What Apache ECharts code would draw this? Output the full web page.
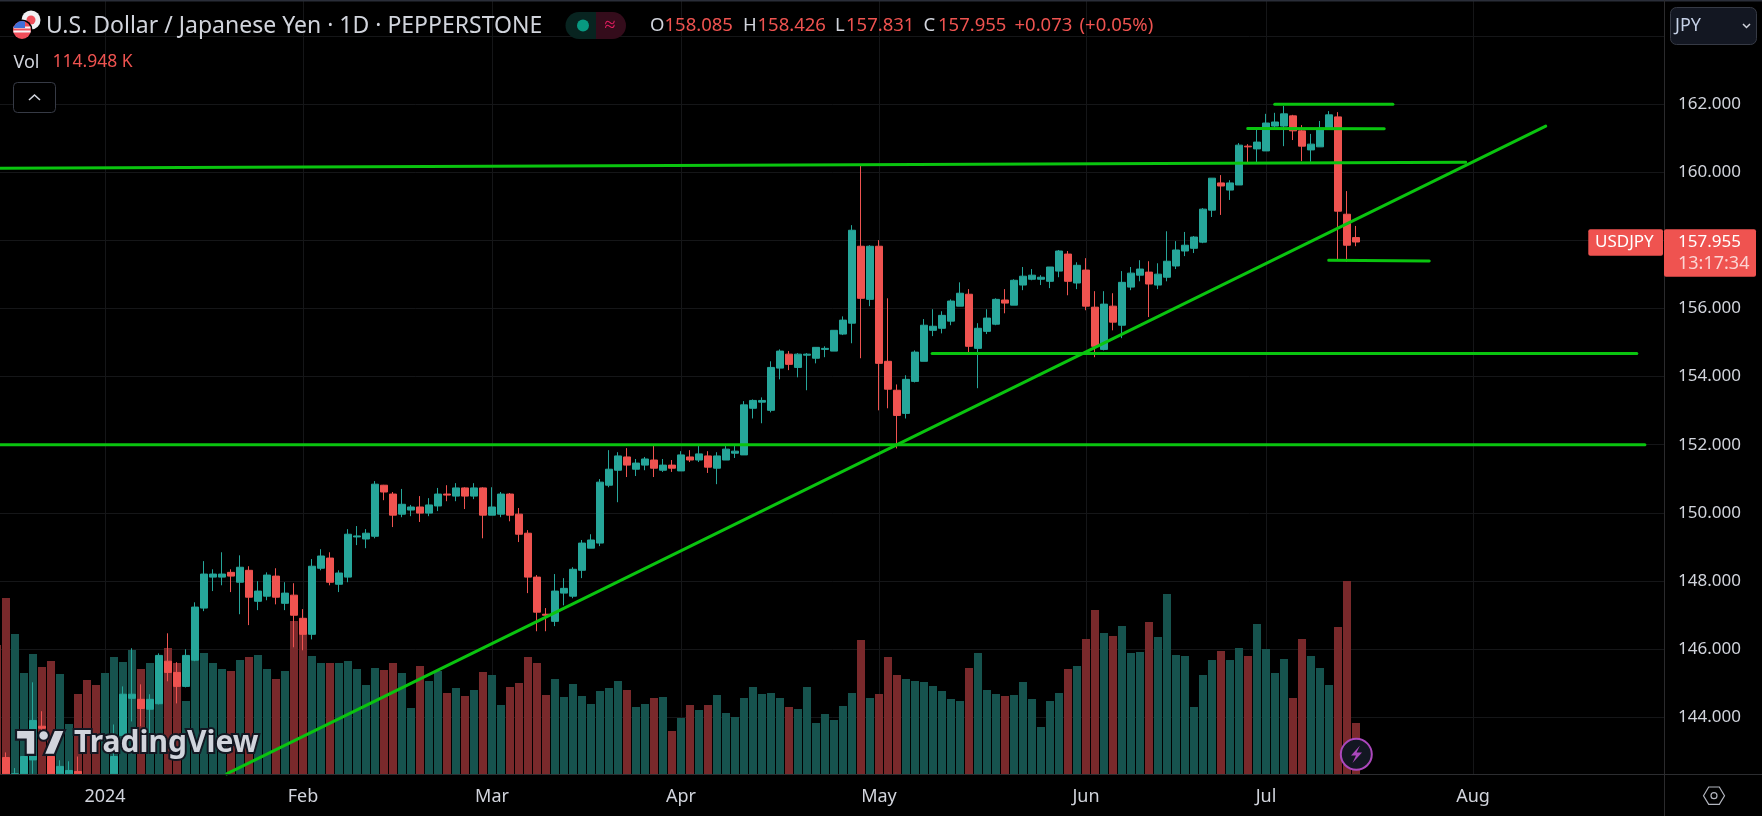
<!DOCTYPE html>
<html>
<head>
<meta charset="utf-8">
<style>html,body{margin:0;padding:0;background:#000;overflow:hidden}#c{width:1762px;height:816px}</style>
<script src="https://cdn.jsdelivr.net/npm/echarts@6/dist/echarts.min.js"></script>
</head>
<body>
<div id="c"></div>
<script>
// Values are read bar by bar from the picture. The first slot of each array is the partly hidden bar at the left edge.
// Bars whose prices drop below the bottom of the pane are recorded at the pane's lowest visible price (142.33).
const opens = [null,
142.81,142.33,142.33,142.74,143.73,142.84,142.33,142.33,142.40,null,
null,null,142.33,143.46,144.55,144.52,144.23,144.39,145.64,145.31,
144.90,145.67,147.20,148.11,148.11,148.25,147.96,148.31,147.40,147.55,
148.14,147.34,147.58,146.90,146.43,148.37,148.67,147.90,148.11,149.29,
149.23,149.31,150.81,150.55,149.96,150.08,150.17,149.99,150.20,150.55,
150.49,150.73,150.49,150.73,149.93,149.96,150.55,149.96,149.40,148.11,
147.02,146.81,147.64,147.55,148.31,148.96,149.11,150.81,151.25,151.64,
151.28,151.40,151.55,151.25,151.40,151.23,151.64,151.55,151.67,151.31,
151.55,151.75,151.70,153.07,153.25,153.01,154.25,154.66,154.27,154.63,
154.54,154.80,154.75,155.25,155.57,157.83,156.27,157.83,154.45,153.60,
152.92,153.86,154.45,155.36,155.42,155.63,156.07,156.42,154.83,155.33,
155.54,156.25,156.10,156.69,156.86,156.86,156.80,157.10,157.60,156.75,
157.13,156.04,154.80,156.07,155.51,156.63,156.98,157.07,156.69,156.92,
157.25,157.69,157.77,157.95,158.89,159.69,159.48,159.63,160.77,160.69,
160.63,161.36,161.36,161.66,161.22,160.66,160.75,161.27,161.63,158.77,158.085];
const closes = [null,
142.33,142.33,142.84,143.90,143.67,142.33,142.55,142.43,142.33,null,
null,null,142.84,144.67,144.67,144.25,144.52,145.81,145.31,144.90,
145.81,147.23,148.20,148.20,148.20,148.14,148.40,147.52,147.70,148.17,
147.52,147.64,146.99,146.43,148.43,148.73,147.96,148.23,149.37,149.32,
149.40,150.84,150.61,149.93,150.25,150.17,149.99,150.23,150.55,150.52,
150.73,150.49,150.73,149.93,150.17,150.55,149.93,149.37,148.11,147.08,
146.99,147.70,147.78,148.34,149.11,149.20,150.90,151.28,151.67,151.40,
151.46,151.58,151.31,151.40,151.31,151.70,151.55,151.73,151.34,151.67,
151.87,151.81,153.17,153.30,153.30,154.27,154.75,154.36,154.66,154.66,
154.86,154.83,155.36,155.66,158.30,156.30,157.83,154.39,153.63,152.86,
153.92,154.72,155.51,155.48,155.80,156.22,156.45,154.89,155.42,155.72,
156.27,156.16,156.83,156.95,156.98,156.92,157.22,157.69,156.80,157.27,
156.07,154.89,156.13,155.60,156.77,157.04,157.16,156.72,157.01,157.39,
157.72,157.86,158.10,158.92,159.83,159.60,159.69,160.80,160.75,160.89,
161.45,161.48,161.72,161.22,160.77,160.83,161.30,161.69,158.86,157.86,157.955];
const lows = [null,
142.33,142.33,142.33,142.33,143.40,142.33,142.33,142.33,142.33,null,
null,null,142.33,143.40,143.87,143.73,143.46,144.37,145.05,144.40,
144.87,145.64,147.11,147.70,147.87,147.67,147.02,146.70,147.14,147.43,
147.31,147.14,146.05,145.96,146.28,148.31,147.87,147.67,147.96,149.05,
148.96,149.25,150.37,149.58,149.87,149.90,149.73,149.90,150.05,150.34,
150.34,150.11,150.40,149.25,149.93,149.87,149.75,149.14,147.64,146.52,
146.52,146.67,147.28,147.49,148.08,148.96,149.02,150.75,150.31,151.05,
151.08,151.25,151.05,151.20,151.20,151.23,151.49,151.49,151.17,150.84,
151.55,151.61,151.70,152.77,152.63,152.95,153.92,154.19,153.98,153.60,
154.39,154.57,154.75,155.22,154.98,154.54,156.07,153.01,153.07,151.89,
152.77,153.83,154.45,155.19,155.27,155.51,156.07,154.72,153.66,155.25,
155.51,155.86,156.10,156.54,156.83,156.69,156.60,156.92,156.39,156.57,
155.95,154.57,154.77,155.36,155.13,156.54,156.80,155.75,156.57,156.80,
157.16,157.54,157.63,157.92,158.69,158.75,159.19,159.63,160.26,160.26,
160.63,161.27,160.77,160.95,160.33,160.31,160.75,161.27,157.42,157.37,157.831];
const highs = [null,
142.96,142.50,142.84,145.02,144.17,142.84,142.73,142.70,142.84,null,
null,null,143.78,144.90,146.02,144.96,144.67,145.87,146.46,145.61,
145.99,147.37,148.58,148.34,148.84,148.34,148.75,148.43,147.99,148.25,
148.37,147.96,147.93,147.17,148.64,148.93,148.84,148.31,149.52,149.61,
149.52,150.93,150.82,150.61,150.70,150.23,150.49,150.43,150.73,150.81,
150.87,150.75,150.87,150.75,150.75,150.61,150.58,150.14,149.49,148.17,
147.20,148.20,148.08,148.40,149.20,149.37,150.99,151.84,151.78,151.90,
151.58,151.64,152.02,151.58,151.55,151.81,151.84,151.96,151.81,151.78,
151.96,151.96,153.28,153.33,153.39,154.45,154.80,154.75,154.69,154.69,
154.86,154.89,155.36,155.77,158.45,160.24,157.86,158.01,156.30,153.77,
154.04,154.77,155.69,155.98,155.92,156.27,156.77,156.57,155.57,155.98,
156.30,156.57,156.86,157.22,157.16,156.98,157.22,157.72,157.69,157.36,
157.48,156.51,156.51,156.45,157.10,157.22,157.42,157.39,157.33,158.27,
157.98,158.25,158.13,158.95,159.83,159.92,159.77,160.86,160.83,161.25,
161.72,161.75,161.95,161.69,161.39,161.13,161.51,161.80,161.77,159.45,158.426];
// Volume in thousands
const volumes = [290.8,
396.7,315.5,227.6,270.5,241.2,254.7,225.4,112.7,180.3,211.9,
200.6,227.6,263.7,252.4,279.5,236.7,250.2,218.6,284.0,250.2,
164.5,277.2,272.7,250.2,236.7,232.2,256.9,263.7,268.2,236.7,
214.1,232.2,344.8,338.1,266.0,250.2,250.2,250.2,254.7,236.7,
200.6,238.9,234.4,250.2,227.6,148.8,243.4,209.6,232.2,182.6,
193.8,175.8,189.3,229.9,223.1,155.5,196.1,205.1,263.7,250.2,
178.1,214.1,173.6,202.9,175.8,157.8,187.1,193.8,209.6,189.3,
151.0,157.8,171.3,173.6,96.9,126.2,155.5,144.2,155.5,178.1,
137.5,128.5,171.3,196.1,180.3,182.6,171.3,151.0,146.5,196.1,
114.9,135.2,121.7,153.3,182.6,302.0,171.3,180.3,263.7,223.1,
214.1,209.6,207.4,198.3,187.1,169.0,164.5,238.9,272.7,189.3,
180.3,175.8,178.1,207.4,169.0,105.9,164.5,182.6,236.7,243.4,
304.3,369.6,317.8,311.0,333.6,272.7,275.0,342.6,308.8,405.7,
268.2,266.0,151.0,223.1,256.9,277.2,256.9,284.0,266.0,338.1,
281.7,227.6,259.2,171.3,304.3,266.0,238.9,200.6,331.3,435.0,114.948];
// Slots with no visible candle whose volume bar is red
const redVolumeOnly = [0,10,11];

const priceTicks = ['144.000','146.000','148.000','150.000','152.000','154.000','156.000','158.000','160.000','162.000'];
const timeTicks = {'2024-01-02':'2024','2024-02-01':'Feb','2024-03-01':'Mar','2024-04-01':'Apr','2024-05-01':'May','2024-06-03':'Jun','2024-07-01':'Jul','2024-08-01':'Aug'};
const marketClosed = ['2023-12-25','2024-01-01'];
const firstSession = '2023-12-13';
const sessionCount = 186;

// Drawn lines: [bar number, price], bar 0 being the second slot above
const drawnLines = [
  [[-1.5,160.12],[162.19,160.30]],
  [[-1.5,152.00],[182.1,152.00]],
  [[102.9,154.68],[181.2,154.68]],
  [[24.52,142.33],[171.08,161.36]],
  [[140.97,162.00],[154.1,162.00]],
  [[137.97,161.29],[153.14,161.28]],
  [[146.97,157.42],[158.14,157.40]]
];

const categories = [];
for (let d = new Date(firstSession + 'T00:00:00Z'); categories.length < sessionCount; d = new Date(+d + 864e5)) {
  const s = d.toISOString().slice(0, 10), wd = d.getUTCDay();
  if (wd !== 0 && wd !== 6 && !marketClosed.includes(s)) categories.push(s);
}

const UP = '#26a69a', DOWN = '#ef5350', VUP = '#16534e', VDOWN = '#79292b';
const TXT = '#d1d4dc', GRID = '#151618', EDGE = '#2a2e39';
const FONT = '"Noto Sans"';

const candleData = opens.map((o, i) => o === null ? ['-', '-', '-', '-'] : [o, closes[i], lows[i], highs[i]]);
const volumeData = volumes.map((v, i) => ({
  value: v,
  itemStyle: {color: (redVolumeOnly.includes(i) || (opens[i] !== null && closes[i] < opens[i])) ? VDOWN : VUP}
}));

const txt = (text, x, y, size, fill, extra, z) => ({
  type: 'text', z: z || 170, silent: true,
  style: Object.assign({text, x, y, fill, font: size + 'px ' + FONT, textVerticalAlign: 'middle'}, extra || {})
});
const box = (x, y, w, h, fill, z, r, stroke) => ({
  type: 'rect', z: z, silent: true, shape: {x, y, width: w, height: h, r: r || 0},
  style: {fill, stroke: stroke || null, lineWidth: stroke ? 1 : 0}
});

const overlay = [
  box(1664.5, 0, 98, 816, '#000', 100),
  box(0, 0, 1762, 1.5, EDGE, 150),
  box(1664, 0, 1, 816, '#2b2b2d', 150),
  box(0, 774, 1762, 1, '#2c2d30', 150),
  // JPY selector
  box(1670.5, 7.5, 86, 37, '#131722', 160, 6, '#363a45'),
  txt('JPY', 1675, 26, 18, '#c5d0e6'),
  {type: 'polyline', z: 170, silent: true, shape: {points: [[1743, 24], [1746.5, 27.5], [1750, 24]]}, style: {stroke: TXT, lineWidth: 1.5, fill: null}},
  // Collapse button
  box(13.5, 82.5, 42, 30, '#000', 160, 4, '#363a45'),
  {type: 'polyline', z: 170, silent: true, shape: {points: [[29, 100], [34.5, 95], [40, 100]]}, style: {stroke: TXT, lineWidth: 1.6, fill: null}},
  // Price tags sit above the axis labels
  box(1588.3, 229.3, 74.7, 26.4, DOWN, 210, 2),
  box(1664, 229.3, 92, 47.4, DOWN, 210, 2),
  txt('USDJPY', 1595, 242.5, 17, '#fff', null, 220),
  txt('157.955', 1678, 242.5, 17, '#fff', null, 220),
  txt('13:17:34', 1678, 264, 18, '#fbd5d4', null, 220),
  // Title row
  {type: 'circle', z: 165, silent: true, shape: {cx: 31, cy: 20, r: 9.5}, style: {fill: '#f0f0f3'}},
  {type: 'circle', z: 166, silent: true, shape: {cx: 31, cy: 20, r: 4.5}, style: {fill: '#ef4e5a'}},
  {type: 'circle', z: 167, silent: true, shape: {cx: 22, cy: 30, r: 10.5}, style: {fill: '#000'}},
  {type: 'circle', z: 168, silent: true, shape: {cx: 22, cy: 30, r: 9}, style: {fill: '#ef4e5a'}},
  {type: 'rect', z: 169, silent: true, shape: {x: 13.6, y: 26.5, width: 16.8, height: 2}, style: {fill: '#f5f5f7'}},
  {type: 'rect', z: 169, silent: true, shape: {x: 13.4, y: 30.5, width: 17.2, height: 2}, style: {fill: '#f5f5f7'}},
  {type: 'polygon', z: 169, silent: true, shape: {points: [[14, 26.5], [16.2, 23.4], [19, 21.6], [22, 21], [25, 21.5], [25, 28], [13.6, 28]]}, style: {fill: '#3f6fd8'}},
  txt('U.S. Dollar / Japanese Yen · 1D · PEPPERSTONE', 46, 26, 23, TXT),
  txt('Vol', 13.5, 62.5, 18, TXT),
  txt('114.948 K', 52.5, 62.5, 17.5, DOWN),
  // Status pill
  box(565.5, 12, 30.5, 27, '#082420', 160, [13.5, 0, 0, 13.5]),
  box(596, 12, 30, 27, '#340c1b', 160, [0, 13.5, 13.5, 0]),
  {type: 'circle', z: 165, silent: true, shape: {cx: 583, cy: 25.5, r: 6}, style: {fill: '#089981'}},
  txt('≈', 610, 25, 20, '#e91e63', {textAlign: 'center'}),
  // OHLC row
  txt('O', 650, 26, 18.5, TXT), txt('158.085', 664.5, 26, 18.5, DOWN),
  txt('H', 743, 26, 18.5, TXT), txt('158.426', 757.5, 26, 18.5, DOWN),
  txt('L', 835, 26, 18.5, TXT), txt('157.831', 846, 26, 18.5, DOWN),
  txt('C', 923.5, 26, 18.5, TXT), txt('157.955', 938, 26, 18.5, DOWN),
  txt('+0.073', 1014.5, 26, 18.5, DOWN), txt('(+0.05%)', 1079.5, 26, 18.5, DOWN),
  // Watermark
  {type: 'polygon', z: 60, silent: true, x: 16, y: 724.5, scaleX: 1.38, scaleY: 1.38,
    shape: {points: [[0, 4], [14, 4], [14, 22], [7, 22], [7, 11], [0, 11]]}, style: {fill: TXT, stroke: '#131722', lineWidth: 1.6}},
  {type: 'polygon', z: 60, silent: true, x: 16, y: 724.5, scaleX: 1.38, scaleY: 1.38,
    shape: {points: [[20, 22], [27.5, 4], [35.5, 4], [28, 22]]}, style: {fill: TXT, stroke: '#131722', lineWidth: 1.6}},
  {type: 'circle', z: 61, silent: true, shape: {cx: 43.6, cy: 735.5, r: 5.3}, style: {fill: TXT, stroke: '#131722', lineWidth: 2}},
  {type: 'text', z: 61, silent: true, style: {text: 'TradingView', x: 74, y: 743, fill: TXT, stroke: '#131722', lineWidth: 4, font: 'bold 30px ' + FONT, textVerticalAlign: 'middle'}},
  // Lightning badge
  {type: 'circle', z: 60, silent: true, shape: {cx: 1356.3, cy: 754.3, r: 15.5}, style: {fill: '#131722', stroke: '#ab47bc', lineWidth: 2}},
  {type: 'polygon', z: 61, silent: true, shape: {points: [[1360, 745.5], [1351, 755.5], [1356, 755.5], [1352.5, 763], [1362, 752.5], [1356.5, 752.5]]}, style: {fill: '#ab47bc'}},
  // Settings hexagon
  {type: 'polygon', z: 170, silent: true, shape: {points: [[1703.5, 795.7], [1708.7, 787], [1719.3, 787], [1724.5, 795.7], [1719.3, 804.4], [1708.7, 804.4]]}, style: {fill: null, stroke: '#b2b5be', lineWidth: 1.2}},
  {type: 'circle', z: 170, silent: true, shape: {cx: 1714, cy: 795.7, r: 3}, style: {fill: null, stroke: '#b2b5be', lineWidth: 1.2}}
];

const chart = echarts.init(document.getElementById('c'), null, {renderer: 'canvas'});
chart.setOption({
  animation: false,
  backgroundColor: '#000',
  grid: [
    {left: -7.5, top: -31.86, width: 1674, height: 816.96, containLabel: false, outerBoundsMode: 'none'},
    {left: -7.5, top: 0, width: 1674, height: 774, containLabel: false, outerBoundsMode: 'none'}
  ],
  xAxis: [
    {type: 'category', gridIndex: 0, data: categories, show: false, boundaryGap: true},
    {type: 'value', gridIndex: 0, min: -1.5, max: 184.5, show: false, splitLine: {show: false}},
    {type: 'category', gridIndex: 1, data: categories, boundaryGap: true, position: 'bottom',
      axisLine: {show: false}, axisTick: {show: false},
      axisLabel: {
        color: TXT, fontFamily: FONT, fontSize: 18, margin: 14, hideOverlap: false,
        interval: (i, v) => v in timeTicks,
        formatter: v => timeTicks[v] || ''
      },
      splitLine: {show: true, alignWithLabel: true, interval: (i, v) => v in timeTicks, lineStyle: {color: GRID, width: 1}}
    }
  ],
  yAxis: [
    {type: 'value', gridIndex: 0, min: 142, max: 166, interval: 2, axisLine: {show: false}, axisTick: {show: false}, axisLabel: {show: false},
      splitLine: {show: true, showMinLine: false, showMaxLine: false, lineStyle: {color: GRID, width: 1}}},
    {type: 'value', gridIndex: 1, min: 0, max: 1744.6, show: false, splitLine: {show: false}},
    {type: 'value', gridIndex: 0, min: 142, max: 166, interval: 2, position: 'right', z: 200,
      axisLine: {show: false}, axisTick: {show: false}, splitLine: {show: false},
      axisLabel: {color: TXT, fontFamily: FONT, fontSize: 17, margin: 11.5, align: 'left', padding: [2, 0, 0, 0], showMinLabel: true, showMaxLabel: true,
        formatter: v => { const t = v.toFixed(3); return priceTicks.includes(t) ? t : ''; }}}
  ],
  series: [
    {type: 'bar', name: 'Volume', xAxisIndex: 2, yAxisIndex: 1, data: volumeData, barWidth: 8, z: 1, silent: true},
    {type: 'candlestick', name: 'USDJPY', xAxisIndex: 0, yAxisIndex: 0, data: candleData, barWidth: 7, z: 2, silent: true,
      itemStyle: {color: UP, color0: DOWN, borderColor: UP, borderColor0: DOWN, borderColorDoji: UP, borderWidth: 1}},
    ...drawnLines.map((pts, n) => ({
      type: 'line', name: 'Drawn ' + n, xAxisIndex: 1, yAxisIndex: 0, data: pts, symbol: 'none', silent: true, z: 5,
      lineStyle: {color: '#0ac40f', width: 3, cap: 'round'}
    }))
  ],
  graphic: overlay
});
</script>
</body>
</html>
